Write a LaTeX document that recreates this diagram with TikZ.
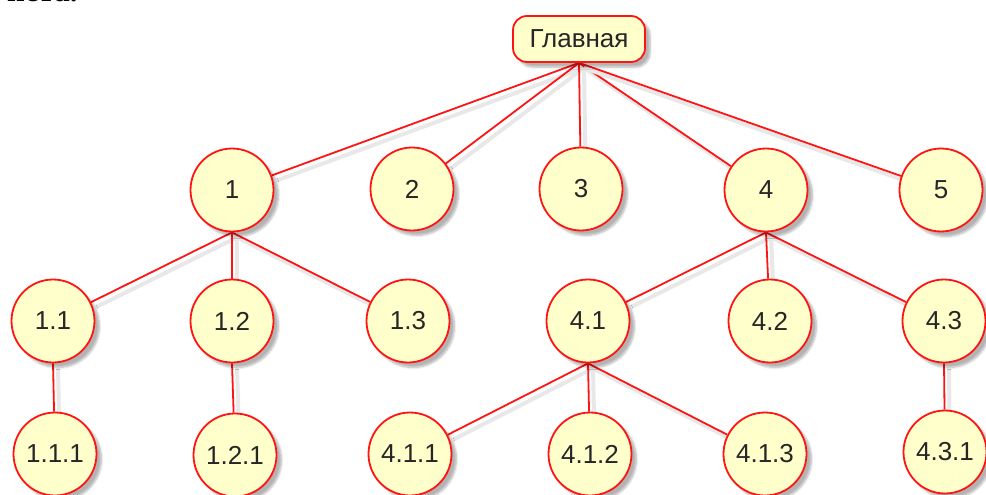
\documentclass[tikz,border=0pt]{standalone}
\usepackage{fontspec}
\setmainfont{Liberation Sans}
\newfontfamily\pagefont{Liberation Serif}
\usetikzlibrary{shadows.blur,backgrounds}
\definecolor{pale}{HTML}{FFFFCC}
\definecolor{treered}{HTML}{FF1414}
\begin{document}
\begin{tikzpicture}[x=1pt,y=-1pt,
  vert/.style={circle,draw=treered,line width=1.8pt,fill=pale,minimum size=83pt,
    inner sep=0pt,text=black!85,font=\fontsize{26}{26}\selectfont,
    blur shadow={shadow xshift=5pt,shadow yshift=-5pt,shadow blur steps=6,shadow opacity=30}},
  top/.style={vert,rectangle,rounded corners=14pt,minimum width=132pt,minimum height=46pt},
  link/.style={treered,line width=1.8pt},
  linkshade/.style={black!9,line width=4pt,transform canvas={shift={(5pt,-5pt)}}}]
\useasboundingbox (0,0) rectangle (986,495);
% cut-off line of the page text
\node[font=\pagefont\bfseries\fontsize{31}{31}\selectfont,anchor=base west,inner sep=0pt] (tail) at (7,1.2) {нета.};
% root
\node[top] (root) at (579,39) {Главная};
% first level
\node[vert] (n1) at (232,190) {1};
\node[vert] (n2) at (412,189) {2};
\node[vert] (n3) at (581,189) {3};
\node[vert] (n4) at (766,190) {4};
\node[vert] (n5) at (941,190) {5};
% second level
\node[vert] (n11) at (53,321) {1.1};
\node[vert] (n12) at (232,321) {1.2};
\node[vert] (n13) at (408,321) {1.3};
\node[vert] (n41) at (588,321) {4.1};
\node[vert] (n42) at (770,321) {4.2};
\node[vert] (n43) at (944,321) {4.3};
% third level
\node[vert] (n111) at (55,454) {1.1.1};
\node[vert] (n121) at (235,455) {1.2.1};
\node[vert] (n411) at (410,454) {4.1.1};
\node[vert] (n412) at (590,454) {4.1.2};
\node[vert] (n413) at (765,454) {4.1.3};
\node[vert] (n431) at (945,452) {4.3.1};
% connectors
\begin{scope}[on background layer]
\foreach \a/\b in {root/n1,root/n2,root/n3,root/n4,root/n5,n1/n11,n1/n12,n1/n13,
  n4/n41,n4/n42,n4/n43,n11/n111,n12/n121,n41/n411,n41/n412,n41/n413,n43/n431}
{
  \draw[linkshade] (\a.south) -- (\b);
  \draw[link] (\a.south) -- (\b);
}
\end{scope}
\end{tikzpicture}
\end{document}
